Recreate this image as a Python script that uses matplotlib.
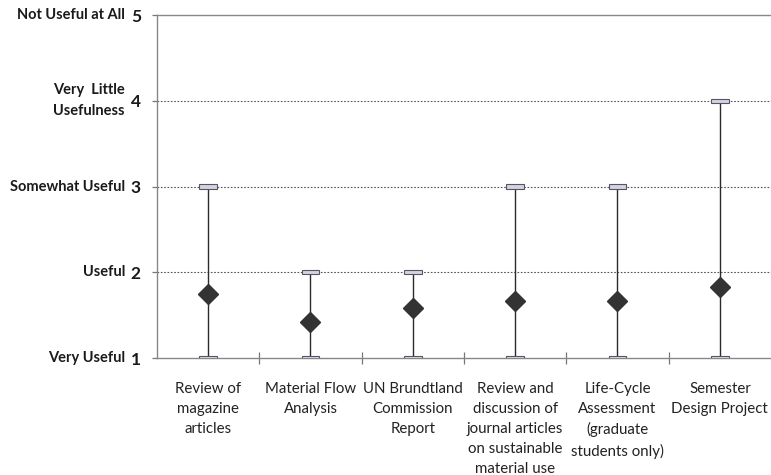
import matplotlib.pyplot as plt
from matplotlib.patches import Rectangle

# Survey of how useful each course activity was (1 = very useful, 5 = not useful)
activities = [
    "Review of\nmagazine\narticles",
    "Material Flow\nAnalysis",
    "UN Brundtland\nCommission\nReport",
    "Review and\ndiscussion of\njournal articles\non sustainable\nmaterial use",
    "Life-Cycle\nAssessment\n(graduate\nstudents only)",
    "Semester\nDesign Project",
]
mean_rating = [1.75, 1.42, 1.58, 1.67, 1.67, 1.83]
min_rating = [1, 1, 1, 1, 1, 1]
max_rating = [3, 2, 2, 3, 3, 4]

scale_values = [1, 2, 3, 4, 5]
scale_labels = ["Very Useful", "Useful", "Somewhat Useful",
                "Very  Little\nUsefulness", "Not Useful at All"]

plt.rcParams["font.family"] = ["Lato", "DejaVu Sans"]

fig = plt.figure(figsize=(7.71, 4.75), dpi=100)
ax = fig.add_axes([0.2036, 0.2463, 0.7964, 0.7221])

xs = list(range(1, len(activities) + 1))

# dotted guides at the interior scale points
for v in scale_values[1:-1]:
    ax.axhline(v, color="#555555", lw=0.8, ls=(0, (1.5, 1.5)), zorder=1)

# range lines, end caps and mean diamonds
cap_w, cap_h = 0.175, 0.047
for x, lo, hi, m in zip(xs, min_rating, max_rating, mean_rating):
    ax.plot([x, x], [lo, hi], color="#2b2b2b", lw=1.0, zorder=2)
    for v in (lo, hi):
        ax.add_patch(Rectangle((x - cap_w / 2, v - cap_h / 2), cap_w, cap_h,
                               facecolor="#d4d4e0", edgecolor="#555566",
                               lw=0.8, zorder=3))
ax.plot(xs, mean_rating, ls="none", marker="D", markersize=10.5,
        color="#333333", zorder=4)

ax.set_xlim(0.5, len(activities) + 0.5)
ax.set_ylim(1, 5)

# category labels sit between the boundary ticks
ax.set_xticks([x + 0.5 for x in xs[:-1]])
ax.set_xticklabels([])
ax.tick_params(axis="x", direction="inout", length=9, color="#777777", width=0.9)
for x, name in zip(xs, activities):
    ax.annotate(name, xy=(x, 1), xycoords="data", xytext=(0, -17),
                textcoords="offset points", ha="center", va="top",
                fontsize=10.8, linespacing=1.55, color="#222222")

ax.set_yticks(scale_values)
ax.set_yticklabels([str(v) for v in scale_values], fontsize=12.5,
                   fontweight="bold", color="#1a1a1a")
ax.tick_params(axis="y", direction="out", length=3.6, color="#777777",
               width=0.9, pad=8)
for v, lab in zip(scale_values, scale_labels):
    ax.annotate(lab, xy=(0, v), xycoords=("axes fraction", "data"),
                xytext=(-23, 0), textcoords="offset points",
                ha="right", va="center", fontsize=10.5, fontweight="bold",
                color="#1a1a1a", linespacing=1.6, multialignment="center")

for side in ("left", "bottom", "top"):
    ax.spines[side].set_color("#888888")
    ax.spines[side].set_linewidth(1.0)
ax.spines["right"].set_visible(False)

fig.savefig("out.png", dpi=100)
